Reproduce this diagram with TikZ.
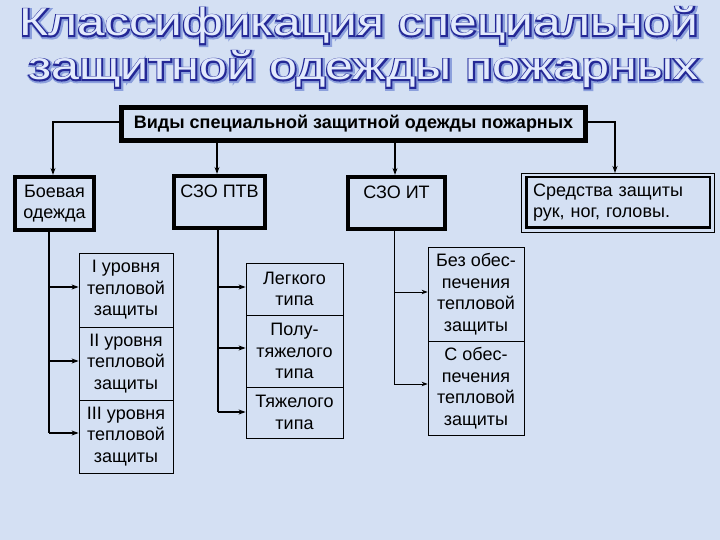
\documentclass[tikz,border=0pt]{standalone}
\usepackage{fontspec}
\setmainfont{Liberation Sans}
\newfontfamily\tfont{Liberation Sans}
\newfontfamily\tfontline{Liberation Sans}[FakeBold=6]
\newfontfamily\tfontshadow{Liberation Sans}[FakeBold=11]
\usepackage{graphicx}
\usetikzlibrary{arrows.meta}
\definecolor{bg}{RGB}{212,224,243}
\definecolor{tfill}{RGB}{226,234,252}
\definecolor{tline}{RGB}{36,40,150}
\definecolor{tshadow}{RGB}{140,160,220}
\newsavebox\ttlbox
\newcommand{\ttl}[3]{\sbox\ttlbox{\tfont\fontsize{39}{39}\selectfont #3}%
  \scalebox{\fpeval{min(#1/max(\wd\ttlbox,1pt),1.6)}}[1]{#2\fontsize{39}{39}\selectfont #3}}
\begin{document}
\begin{tikzpicture}[x=1pt,y=-1pt,
  bigbox/.style={draw=black, line width=4.2pt, rectangle, inner sep=0pt, align=center,
    font=\fontsize{18}{21.5}\selectfont},
  subbox/.style={draw=black, line width=0.8pt, rectangle, inner sep=0pt, align=center,
    font=\fontsize{18}{21.5}\selectfont},
  conn/.style={line width=1.6pt, -{Stealth[length=7pt,width=5pt]}},
  thinconn/.style={line width=0.9pt, -{Stealth[length=6pt,width=4.5pt]}},
  titletext/.style={inner sep=0pt, anchor=base}
]
\fill[bg] (0,0) rectangle (720,540);
\useasboundingbox (0,0) rectangle (720,540);

% title
\node[titletext, text=tshadow] (t1s) at (360,37) {\ttl{679pt}{\tfontshadow}{Классификация специальной}};
\node[titletext, text=tline] (t1o) at (359,36) {\ttl{679pt}{\tfontline}{Классификация специальной}};
\node[titletext, text=tfill] (t1) at (359,36) {\ttl{679pt}{\tfont}{Классификация специальной}};
\node[titletext, text=tshadow] (t2s) at (364.5,81) {\ttl{670pt}{\tfontshadow}{защитной одежды пожарных}};
\node[titletext, text=tline] (t2o) at (363.5,80) {\ttl{670pt}{\tfontline}{защитной одежды пожарных}};
\node[titletext, text=tfill] (t2) at (363.5,80) {\ttl{670pt}{\tfont}{защитной одежды пожарных}};

% top box
\node[bigbox, line width=4.5pt, minimum width=464, minimum height=33, font=\fontsize{18}{20}\selectfont\bfseries] (top) at (353.5,124) {Виды специальной защитной одежды пожарных};

% level 2
\node[bigbox, minimum width=79, minimum height=53] (bo) at (54.5,203.5) {Боевая\\одежда};
\node[bigbox, minimum width=91, minimum height=52] (ptv) at (219.5,202) {СЗО ПТВ\\\mbox{}};
\node[bigbox, minimum width=97, minimum height=52] (it) at (396.5,203) {СЗО ИТ\\\mbox{}};
\node[bigbox, line width=2.5pt, minimum width=183.5, minimum height=50.5, text width=170pt, align=left] (sz) at (618,202.5) {Средства защиты\\рук, ног, головы.};
\draw[line width=0.8pt] ([shift={(-3.5,-3)}]sz.north west) rectangle ([shift={(3.5,3)}]sz.south east);

% level 3 - combat
\node[subbox, minimum width=94, minimum height=74] (b1) at (126,290) {I уровня\\тепловой\\защиты};
\node[subbox, minimum width=94, minimum height=73] (b2) at (126,363.5) {II уровня\\тепловой\\защиты};
\node[subbox, minimum width=94, minimum height=73] (b3) at (126,436.5) {III уровня\\тепловой\\защиты};

% level 3 - PTV
\node[subbox, minimum width=97, minimum height=52] (p1) at (294.5,289) {Легкого\\типа};
\node[subbox, minimum width=97, minimum height=72] (p2) at (294.5,351) {Полу-\\тяжелого\\типа};
\node[subbox, minimum width=97, minimum height=51] (p3) at (294.5,412.5) {Тяжелого\\типа};

% level 3 - IT
\node[subbox, minimum width=96, minimum height=94] (i1) at (476,294) {Без обес-\\печения\\тепловой\\защиты};
\node[subbox, minimum width=96, minimum height=94] (i2) at (476,388) {С обес-\\печения\\тепловой\\защиты};

% connectors from top
\draw[conn] (top.west |- 0,122) -| (bo.north -| 53,0);
\draw[conn] (top.south -| 217,0) -- (ptv.north -| 217,0);
\draw[conn] (top.south -| 395,0) -- (it.north -| 395,0);
\draw[conn, shorten >=3pt] (top.east |- 0,122) -| (sz.north -| 615,0);

% combat
\draw[line width=1.3pt] (bo.south -| 49,0) -- (49,433);
\draw[conn] (49,287) -- (b1.west |- 0,287);
\draw[conn] (49,361) -- (b2.west |- 0,361);
\draw[conn] (49,433) -- (b3.west |- 0,433);

% PTV
\draw[line width=1.3pt] (ptv.south -| 218,0) -- (218,412);
\draw[conn] (218,287) -- (p1.west |- 0,287);
\draw[conn] (218,348) -- (p2.west |- 0,348);
\draw[conn] (218,412) -- (p3.west |- 0,412);

% IT
\draw[line width=0.9pt] (it.south -| 394,0) -- (394,384);
\draw[thinconn] (394,292) -- (i1.west |- 0,292);
\draw[thinconn] (394,384) -- (i2.west |- 0,384);
\end{tikzpicture}
\end{document}
